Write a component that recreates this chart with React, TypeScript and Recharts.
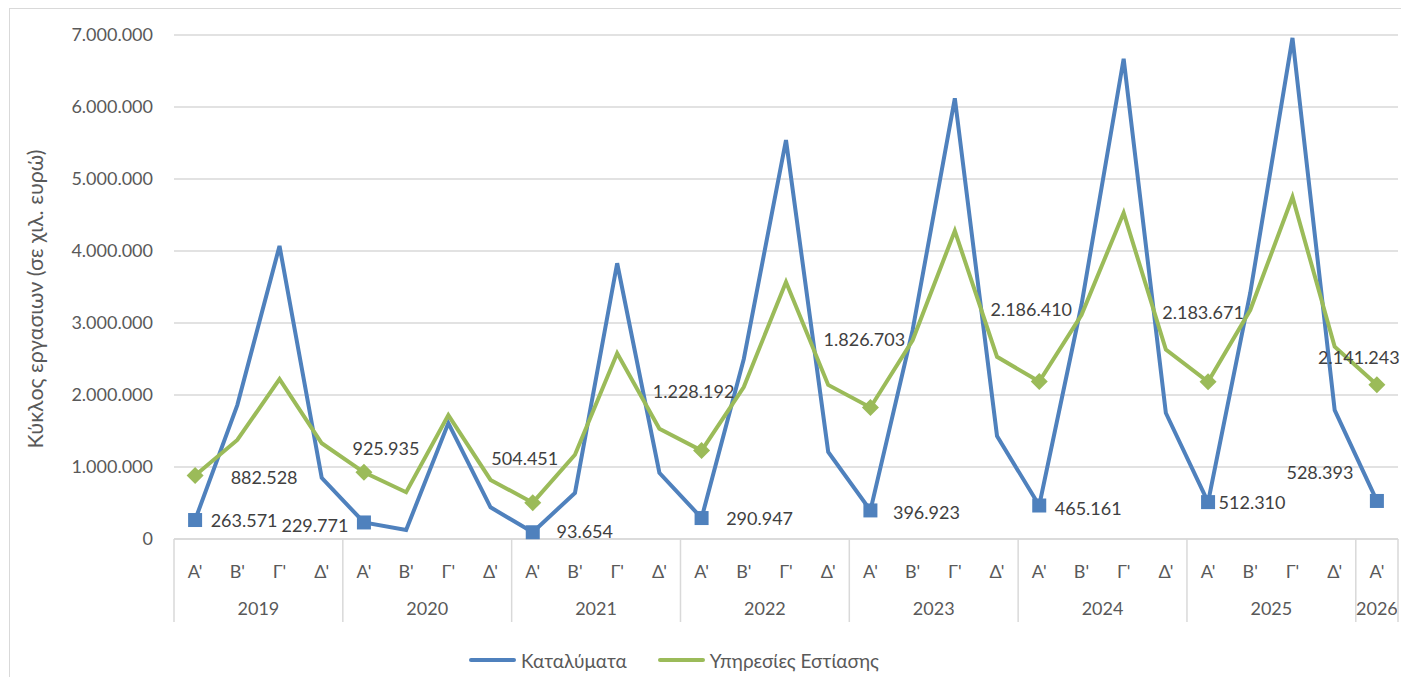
import { LineChart, Line, XAxis, YAxis, CartesianGrid, Legend, LabelList } from 'recharts'

const years = ['2019', '2020', '2021', '2022', '2023', '2024', '2025', '2026']
const quarters = ["Α'", "Β'", "Γ'", "Δ'"]

const katalymata = [
  263571, 1860000, 4070000, 850000,
  229771, 125000, 1610000, 440000,
  93654, 640000, 3830000, 920000,
  290947, 2500000, 5540000, 1210000,
  396923, 2900000, 6120000, 1430000,
  465161, 3250000, 6670000, 1750000,
  512310, 3420000, 6960000, 1790000,
  528393,
]

const estiasi = [
  882528, 1375000, 2220000, 1330000,
  925935, 650000, 1720000, 820000,
  504451, 1170000, 2580000, 1530000,
  1228192, 2110000, 3570000, 2140000,
  1826703, 2760000, 4280000, 2530000,
  2186410, 3110000, 4530000, 2630000,
  2183671, 3180000, 4750000, 2670000,
  2141243,
]

const yTicks = [0, 1000000, 2000000, 3000000, 4000000, 5000000, 6000000, 7000000]

const data = katalymata.map((v, i) => ({
  q: quarters[i % 4],
  year: years[Math.floor(i / 4)],
  katalymata: v,
  estiasi: estiasi[i],
}))

const BLUE = '#4F81BD'
const GREEN = '#9BBB59'
const FONT = 'Lato, "Open Sans", sans-serif'
const W = 1401
const H = 677
const PLOT_LEFT = 174
const PLOT_RIGHT = 3
const BAND = (W - PLOT_LEFT - PLOT_RIGHT) / data.length

// label offsets (centre of text relative to point), only first quarters carry labels
const blueLabelOffsets = [[49, 0], [-49, 3], [52, -1], [58, 0], [56, 2], [49, 2], [44, 0], [-57, -29]]
const greenLabelOffsets = [[69, 2], [22, -24], [-8, -45], [-8, -60], [-6, -68], [-8, -73], [-5, -70], [-18, -28]]

const fmt = (v: number) => String(Math.round(v)).replace(/\B(?=(\d{3})+(?!\d))/g, '.')

const SquareDot = (props: any) => {
  const { cx, cy, index } = props
  if (index % 4 !== 0 || cx == null) return <g key={index} />
  return <rect key={index} x={cx - 7} y={cy - 7} width={14} height={14} fill={BLUE} />
}

const DiamondDot = (props: any) => {
  const { cx, cy, index } = props
  if (index % 4 !== 0 || cx == null) return <g key={index} />
  const r = 8.5
  return (
    <polygon
      key={index}
      points={`${cx},${cy - r} ${cx + r},${cy} ${cx},${cy + r} ${cx - r},${cy}`}
      fill={GREEN}
    />
  )
}

const makeLabel = (offsets: number[][]) => (props: any) => {
  const { x, y, value, index } = props
  if (index % 4 !== 0) return null
  const [dx, dy] = offsets[index / 4]
  return (
    <text
      x={x + dx}
      y={y + dy}
      textAnchor="middle"
      dominantBaseline="central"
      fill="#404040"
      fontSize={18}
      fontFamily={FONT}
    >
      {fmt(value)}
    </text>
  )
}

const CategoryTick = (props: any) => {
  const { x, y, payload } = props
  const i = payload.index
  const row = data[i]
  const left = x - BAND / 2
  const groupSize = Math.min(4, data.length - i)
  return (
    <g>
      <text x={x} y={y + 32} textAnchor="middle" dominantBaseline="central" fill="#595959" fontSize={18} fontFamily={FONT}>
        {row.q}
      </text>
      {i % 4 === 0 && (
        <>
          <line x1={left} y1={y} x2={left} y2={y + 83} stroke="#d9d9d9" strokeWidth={1.5} />
          <text
            x={left + (groupSize * BAND) / 2}
            y={y + 69}
            textAnchor="middle"
            dominantBaseline="central"
            fill="#595959"
            fontSize={18}
            fontFamily={FONT}
          >
            {row.year}
          </text>
        </>
      )}
      {i === data.length - 1 && (
        <line x1={x + BAND / 2} y1={y} x2={x + BAND / 2} y2={y + 83} stroke="#d9d9d9" strokeWidth={1.5} />
      )}
    </g>
  )
}

const LegendContent = () => (
  <div style={{ display: 'flex', justifyContent: 'center', alignItems: 'center', height: 26, paddingRight: 50, fontFamily: FONT, fontSize: 19, color: '#595959' }}>
    {[
      { name: 'Καταλύματα', color: BLUE },
      { name: 'Υπηρεσίες Εστίασης', color: GREEN },
    ].map((s, k) => (
      <div key={s.name} style={{ display: 'flex', alignItems: 'center', marginLeft: k ? 31 : 0 }}>
        <span style={{ display: 'inline-block', width: 47, height: 4, borderRadius: 2, background: s.color, marginRight: 5 }} />
        <span>{s.name}</span>
      </div>
    ))}
  </div>
)

export default function App() {
  return (
    <div style={{ position: 'absolute', left: 0, top: 0, width: W, height: H, overflow: 'hidden', background: '#fff' }}>
      <div style={{ position: 'absolute', left: 9, top: 8, width: W, height: H, border: '1.5px solid #d9d9d9' }} />
      <LineChart
        width={W}
        height={H}
        data={data}
        margin={{ top: 35, right: PLOT_RIGHT, left: 0, bottom: 4 }}
        style={{ position: 'absolute', left: 0, top: 0 }}
      >
        <CartesianGrid vertical={false} stroke="#d9d9d9" strokeWidth={1.5} />
        <XAxis
          dataKey="q"
          interval={0}
          height={108}
          padding={{ left: BAND / 2, right: BAND / 2 }}
          axisLine={{ stroke: '#d9d9d9', strokeWidth: 1.5 }}
          tickLine={false}
          tickSize={0}
          tickMargin={0}
          tick={<CategoryTick />}
        />
        <YAxis
          domain={[0, 7000000]}
          ticks={yTicks}
          width={PLOT_LEFT}
          axisLine={false}
          tickLine={false}
          tickSize={0}
          tickMargin={21}
          tickFormatter={fmt}
          tick={{ fill: '#595959', fontSize: 18, fontFamily: FONT }}
          label={{
            content: () => (
              <text
                x={35}
                y={299}
                transform="rotate(-90 35 299)"
                textAnchor="middle"
                dominantBaseline="central"
                fill="#595959"
                fontSize={21.5}
                fontFamily={FONT}
              >
                Κύκλος εργασιων (σε χιλ. ευρώ)
              </text>
            ),
          }}
        />
        <Legend verticalAlign="bottom" content={<LegendContent />} />
        <Line
          dataKey="katalymata"
          name="Καταλύματα"
          type="linear"
          stroke={BLUE}
          strokeWidth={4}
          dot={<SquareDot />}
          activeDot={false}
          isAnimationActive={false}
        >
          <LabelList dataKey="katalymata" content={makeLabel(blueLabelOffsets)} />
        </Line>
        <Line
          dataKey="estiasi"
          name="Υπηρεσίες Εστίασης"
          type="linear"
          stroke={GREEN}
          strokeWidth={4}
          dot={<DiamondDot />}
          activeDot={false}
          isAnimationActive={false}
        >
          <LabelList dataKey="estiasi" content={makeLabel(greenLabelOffsets)} />
        </Line>
      </LineChart>
    </div>
  )
}
